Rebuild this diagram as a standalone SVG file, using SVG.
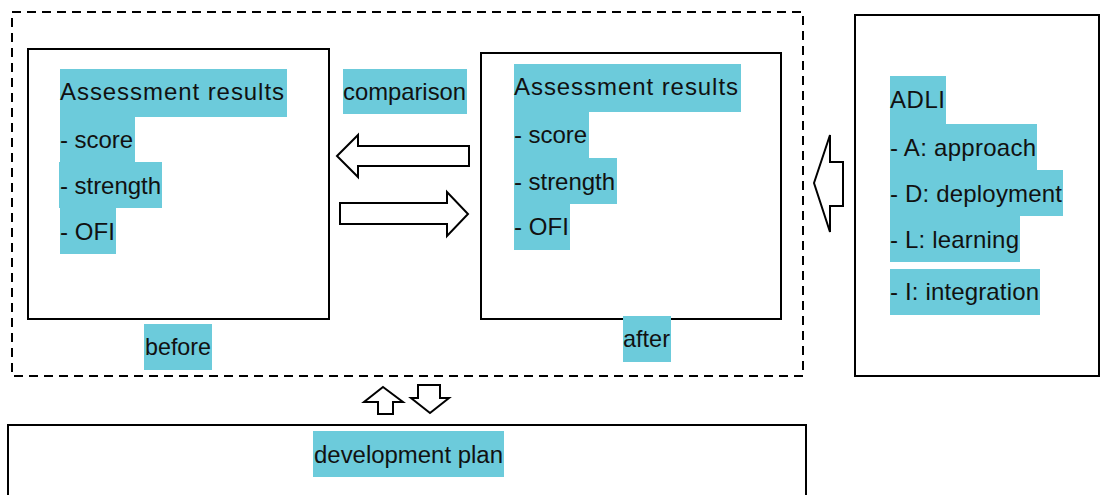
<svg xmlns="http://www.w3.org/2000/svg" width="1100" height="495" viewBox="0 0 1100 495">
<style>
.box{fill:#fff;stroke:#000;stroke-width:2}
.dash{fill:none;stroke:#000;stroke-width:2;stroke-dasharray:9 6}
.hl{fill:#6ccbdb;stroke:none}
.t{font-family:"Liberation Sans",Arial,sans-serif;font-size:24px;fill:#111}
.arr{fill:#fff;stroke:#000;stroke-width:2;stroke-linejoin:miter}
</style>
<rect width="1100" height="495" fill="#fff"/>
<g id="group-frame">
<rect class="dash" x="12" y="12" width="791" height="364"/>
</g>
<g id="node-before">
<rect class="box" x="28" y="49" width="301" height="270"/>
<rect class="hl" x="60" y="69" width="227" height="48"/>
<rect class="hl" x="60" y="117" width="75" height="45"/>
<rect class="hl" x="59" y="162" width="103" height="46"/>
<rect class="hl" x="60" y="208" width="56" height="46"/>
<text class="t" x="60" y="100" textLength="224" lengthAdjust="spacing">Assessment results</text>
<text class="t" x="60" y="148" textLength="73" lengthAdjust="spacing">- score</text>
<text class="t" x="60" y="194" textLength="101" lengthAdjust="spacing">- strength</text>
<text class="t" x="60" y="240" textLength="55" lengthAdjust="spacing">- OFI</text>
<rect class="hl" x="144" y="324" width="68" height="46"/>
<text class="t" x="145" y="355" textLength="66" lengthAdjust="spacingAndGlyphs">before</text>
</g>
<g id="node-after">
<rect class="box" x="481" y="53" width="300" height="266"/>
<rect class="hl" x="514" y="64" width="227" height="48"/>
<rect class="hl" x="514" y="112" width="75" height="46"/>
<rect class="hl" x="514" y="158" width="103" height="46"/>
<rect class="hl" x="514" y="204" width="56" height="46"/>
<text class="t" x="514" y="95" textLength="224" lengthAdjust="spacing">Assessment results</text>
<text class="t" x="514" y="143" textLength="73" lengthAdjust="spacing">- score</text>
<text class="t" x="514" y="190" textLength="101" lengthAdjust="spacing">- strength</text>
<text class="t" x="514" y="235" textLength="55" lengthAdjust="spacing">- OFI</text>
<rect class="hl" x="623" y="316" width="48" height="46"/>
<text class="t" x="623" y="347" textLength="47" lengthAdjust="spacingAndGlyphs">after</text>
</g>
<g id="label-comparison">
<rect class="hl" x="343" y="69" width="124" height="45"/>
<text class="t" x="343" y="100" textLength="123" lengthAdjust="spacingAndGlyphs">comparison</text>
</g>
<g id="node-adli">
<rect class="box" x="855" y="15" width="244" height="361"/>
<rect class="hl" x="890" y="76" width="56" height="48"/>
<rect class="hl" x="890" y="124" width="147" height="46"/>
<rect class="hl" x="890" y="170" width="173" height="46"/>
<rect class="hl" x="890" y="216" width="130" height="46"/>
<rect class="hl" x="890" y="269" width="150" height="46"/>
<text class="t" x="890" y="108" textLength="55" lengthAdjust="spacing">ADLI</text>
<text class="t" x="890" y="156" textLength="146" lengthAdjust="spacing">- A: approach</text>
<text class="t" x="890" y="202" textLength="172" lengthAdjust="spacing">- D: deployment</text>
<text class="t" x="890" y="248" textLength="129" lengthAdjust="spacing">- L: learning</text>
<text class="t" x="890" y="300" textLength="149" lengthAdjust="spacing">- I: integration</text>
</g>
<g id="node-plan">
<rect class="box" x="8" y="425" width="798" height="80"/>
<rect class="hl" x="313" y="431" width="191" height="46"/>
<text class="t" x="314" y="463" style="font-size:23px" textLength="189" lengthAdjust="spacingAndGlyphs">development plan</text>
</g>
<g id="connectors">
<path class="arr" d="M337,156 L358,135 L358,146 L469,146 L469,166 L358,166 L358,177 Z"/>
<path class="arr" d="M340,203 L447,203 L447,192 L468,214 L447,236 L447,224 L340,224 Z"/>
<path class="arr" d="M814,183 L830,135 L830,162 L843,162 L843,206 L830,206 L830,232 Z"/>
<path class="arr" d="M383,387 L403,402 L393,402 L393,414 L378,414 L378,402 L364,402 Z"/>
<path class="arr" d="M418,385 L440,385 L440,398 L449,398 L430,413 L411,398 L418,398 Z"/>
</g>
</svg>
